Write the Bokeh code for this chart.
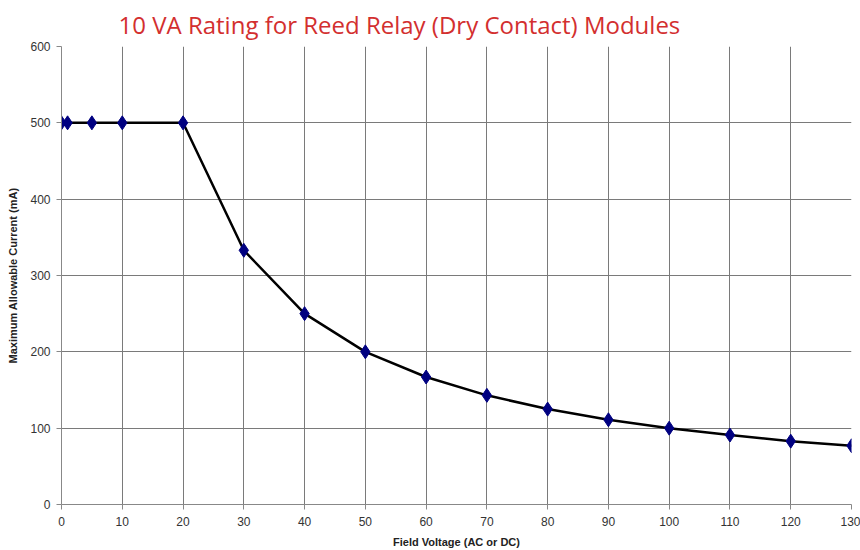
from bokeh.plotting import figure
from bokeh.models import Range1d, FixedTicker, Title
from bokeh.embed import file_html
from bokeh.resources import INLINE

title_text = "10 VA Rating for Reed Relay (Dry Contact) Modules"
voltage = [0, 1, 5, 10, 20, 30, 40, 50, 60, 70, 80, 90, 100, 110, 120, 130]
current = [500, 500, 500, 500, 500, 333, 250, 200, 167, 143, 125, 111, 100, 91, 83, 77]
x_ticks = [0, 10, 20, 30, 40, 50, 60, 70, 80, 90, 100, 110, 120, 130]
y_ticks = [0, 100, 200, 300, 400, 500, 600]

p = figure(width=860, height=550, output_backend="svg", toolbar_location=None,
           x_range=Range1d(0, 130), y_range=Range1d(0, 600),
           min_border_left=61, min_border_right=9, min_border_top=0, min_border_bottom=0)
p.title = Title(text=title_text, align="left", offset=57, text_font="Open Sans",
                text_font_size="24px", text_font_style="normal", text_color="#d32f2f",
                standoff=11)
p.outline_line_color = None
p.background_fill_color = "white"

for ax in (p.xaxis[0], p.yaxis[0]):
    ax.axis_line_color = "#888888"
    ax.major_tick_line_color = "#888888"
    ax.major_tick_out = 5
    ax.major_tick_in = 0
    ax.minor_tick_line_color = None
    ax.major_label_text_font = "Liberation Sans"
    ax.major_label_text_font_size = "12px"
    ax.major_label_text_color = "#333333"
    ax.axis_label_text_font = "Liberation Sans"
    ax.axis_label_text_font_size = "11px"
    ax.axis_label_text_font_style = "bold"
    ax.axis_label_text_color = "#222222"

p.xaxis.ticker = FixedTicker(ticks=x_ticks)
p.yaxis.ticker = FixedTicker(ticks=y_ticks)
p.xaxis.axis_label = "Field Voltage (AC or DC)"
p.yaxis.axis_label = "Maximum Allowable Current (mA)"
p.xaxis.major_label_standoff = 7
p.xaxis.axis_label_standoff = 7
p.yaxis.major_label_standoff = 6
p.yaxis.axis_label_standoff = 8

p.xgrid.ticker = FixedTicker(ticks=x_ticks)
p.ygrid.ticker = FixedTicker(ticks=y_ticks)
p.grid.grid_line_color = "#7a7a7a"
p.grid.grid_line_width = 1

p.line(voltage, current, line_color="black", line_width=2.5)
p.scatter(voltage, current, marker="diamond", size=14, fill_color="#000080",
          line_color="#000080")

open("out.html", "w").write(file_html(p, INLINE))
